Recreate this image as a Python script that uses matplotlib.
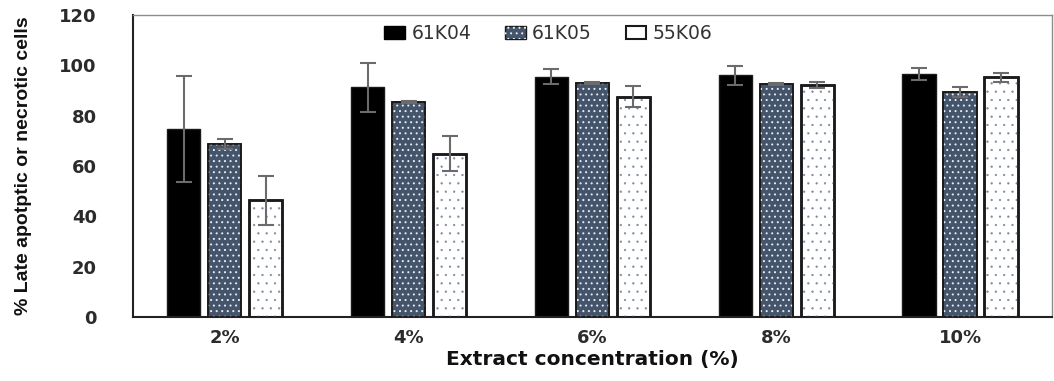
import matplotlib
matplotlib.use("Agg")
import matplotlib.pyplot as plt
import numpy as np
from matplotlib.patches import Patch
from matplotlib.legend_handler import HandlerTuple

categories = ["2%", "4%", "6%", "8%", "10%"]
series_names = ["61K04", "61K05", "55K06"]
vals_61K04 = [74.8, 91.2, 95.5, 96.0, 96.5]
err_61K04 = [21.0, 9.6, 3.0, 3.8, 2.5]
vals_61K05 = [68.7, 85.6, 93.0, 92.6, 89.4]
err_61K05 = [2.0, 0.4, 0.3, 0.4, 2.0]
vals_55K06 = [46.3, 64.9, 87.6, 92.0, 95.2]
err_55K06 = [9.7, 7.0, 4.0, 1.2, 1.7]
yticks = [0, 20, 40, 60, 80, 100, 120]

plt.rcParams['hatch.linewidth'] = 0.7

fig = plt.figure(figsize=(10.54, 3.81), dpi=100)
ax = fig.add_axes([0.1262, 0.168, 0.8718, 0.7926])

x = np.arange(len(categories))
width = 0.18
off = 0.223
errc = '#6b6b6b'
blue = '#44546a'

# 61K04 black
ax.bar(x - off, vals_61K04, width, color='black', edgecolor='#1a1a1a', linewidth=1, zorder=2)
# 61K05 blue dotted
ax.bar(x, vals_61K05, width, color=blue, edgecolor='#1a1a1a', linewidth=1.2, zorder=2)
ax.bar(x, vals_61K05, width, color='none', edgecolor='#e8ecf2', hatch='...', linewidth=0, zorder=3)
ax.bar(x, vals_61K05, width, color='none', edgecolor='#1a1a1a', linewidth=1.2, zorder=3.5)
# 55K06 white dotted
ax.bar(x + off, vals_55K06, width, color='white', edgecolor='#1a1a1a', linewidth=1.8, zorder=2)
with plt.rc_context({'hatch.linewidth': 0.4}):
    ax.bar(x + off, vals_55K06, width, color='none', edgecolor='#7c8aa0', hatch='..', linewidth=0, zorder=3)
ax.bar(x + off, vals_55K06, width, color='none', edgecolor='#1a1a1a', linewidth=1.8, zorder=3.5)

for xs, v, e in [(x - off, vals_61K04, err_61K04), (x, vals_61K05, err_61K05), (x + off, vals_55K06, err_55K06)]:
    ax.errorbar(xs, v, yerr=e, fmt='none', ecolor=errc, elinewidth=1.5, capsize=5.5, capthick=1.5, zorder=4)

ax.set_xlim(-0.5, len(categories) - 0.5)
ax.set_ylim(0, 120)
ax.set_yticks(yticks)
ax.set_yticklabels([str(t) for t in yticks], fontsize=13, fontweight='bold', color='#2b2b2b')
ax.set_xticks(x)
ax.set_xticklabels(categories, fontsize=13, fontweight='bold', color='#2b2b2b')
ax.tick_params(axis='both', length=0)
ax.tick_params(axis='y', pad=26)
ax.tick_params(axis='x', pad=9)

for s in ['left', 'bottom']:
    ax.spines[s].set_color('#222222')
    ax.spines[s].set_linewidth(1.5)
for s in ['top', 'right']:
    ax.spines[s].set_color('#8c8c8c')
    ax.spines[s].set_linewidth(1.0)

ax.set_xlabel("Extract concentration (%)", fontsize=14.5, fontweight='bold', color='#111111', labelpad=2)
ax.set_ylabel("% Late apotptic or necrotic cells", fontsize=14, fontweight='bold',
              family='Liberation Sans', color='#111111', labelpad=20)

h1 = Patch(facecolor='black', edgecolor='black')
h2 = (Patch(facecolor=blue, edgecolor='#1a1a1a'), Patch(facecolor='none', edgecolor='#e8ecf2', hatch='...', linewidth=0))
h3 = Patch(facecolor='white', edgecolor='#1a1a1a', linewidth=1.5)
ax.legend([h1, h2, h3], series_names, loc='center', bbox_to_anchor=(0.452, 0.94), ncol=3,
          frameon=False, handlelength=1.1, handleheight=0.7, handletextpad=0.35, columnspacing=1.8,
          prop={'size': 13.5}, labelcolor='#333333',
          handler_map={tuple: HandlerTuple(ndivide=1, pad=0)})

fig.savefig("out.png", dpi=100)
